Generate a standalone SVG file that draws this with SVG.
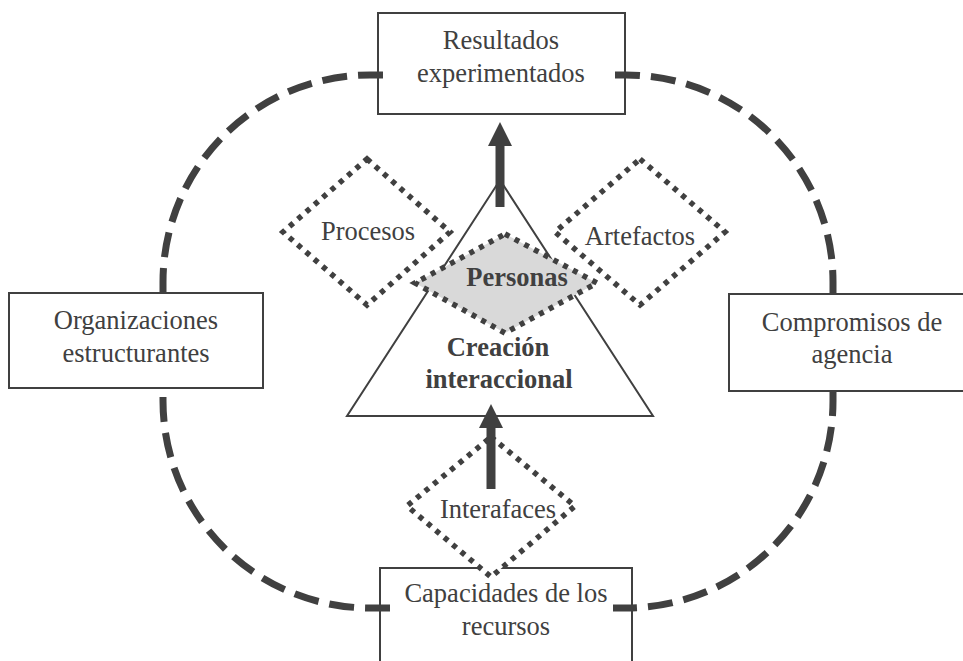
<svg xmlns="http://www.w3.org/2000/svg" width="963" height="661" viewBox="0 0 963 661">
  <style>
    .ring { fill: none; stroke: #404040; stroke-width: 7; stroke-dasharray: 25 11; }
    .box { fill: #ffffff; stroke: #404040; stroke-width: 2; }
    .tri { fill: #ffffff; stroke: #404040; stroke-width: 2; }
    .dots { fill: #ffffff; stroke: #404040; stroke-width: 5.5; stroke-dasharray: 5 6; }
    .dots.core { fill: #d9d9d9; }
    .shaft { stroke: #404040; stroke-width: 9; fill: none; }
    .lbl { font-family: 'Liberation Serif', 'DejaVu Serif', serif; font-size: 26.5px; fill: #404040; text-anchor: middle; }
    .bold { font-weight: bold; }
  </style>
  <defs>
    <marker id="head" viewBox="0 0 24 24" markerWidth="24" markerHeight="24" refX="0" refY="12" orient="auto" markerUnits="userSpaceOnUse">
      <path d="M0,0 L24,12 L0,24 Z" fill="#404040"/>
    </marker>
  </defs>

  <rect width="963" height="661" fill="#ffffff"/>

  <!-- outer boxes -->
  <g id="resultados">
    <rect class="box" x="378" y="13" width="247" height="101"/>
    <text class="lbl" x="501" y="49">Resultados</text>
    <text class="lbl" x="501" y="82">experimentados</text>
  </g>
  <g id="organizaciones">
    <rect class="box" x="9" y="293" width="254" height="95"/>
    <text class="lbl" x="136" y="329">Organizaciones</text>
    <text class="lbl" x="136" y="362">estructurantes</text>
  </g>
  <g id="compromisos">
    <rect class="box" x="729" y="294" width="250" height="97"/>
    <text class="lbl" x="852" y="331">Compromisos de</text>
    <text class="lbl" x="852" y="363">agencia</text>
  </g>
  <g id="capacidades">
    <rect class="box" x="380" y="568" width="252" height="110"/>
    <text class="lbl" x="506" y="602">Capacidades de los</text>
    <text class="lbl" x="506" y="635">recursos</text>
  </g>

  <!-- dashed rounded ring linking the four boxes -->
  <g id="ring">
    <path class="ring" d="M615,75 L626,75 A207,207 0 0 1 833,282 L833,294"/>
    <path class="ring" d="M833,391 L833,401 A207,207 0 0 1 626,608 L613,608"/>
    <path class="ring" d="M390,608 L370,608 A207,207 0 0 1 163,401 L163,388"/>
    <path class="ring" d="M163,293 L163,282 A207,207 0 0 1 370,75 L388,75"/>
  </g>

  <!-- central triangle -->
  <g id="creacion">
    <polygon class="tri" points="500,180 653,416 347,416"/>
  </g>

  <g id="procesos">
    <polygon class="dots" points="367,159 450,232 367,305 283,232"/>
    <text class="lbl" x="368" y="240">Procesos</text>
  </g>
  <g id="artefactos">
    <polygon class="dots" points="640,159 725,232 640,305 555,232"/>
    <text class="lbl" x="640" y="245">Artefactos</text>
  </g>
  <g id="personas">
    <polygon class="dots core" points="505,234 597,283 505,333 415,283"/>
    <text class="lbl bold" x="517" y="286">Personas</text>
  </g>
  <g id="creacion-label">
    <text class="lbl bold" x="498" y="356">Creación</text>
    <text class="lbl bold" x="499" y="388">interaccional</text>
  </g>

  <g id="interfaces">
    <polygon class="dots" points="491,437 575,506 491,577 407,506"/>
    <text class="lbl" x="498" y="518">Interafaces</text>
  </g>

  <!-- upward arrows -->
  <g id="connectors">
    <line class="shaft" x1="500" y1="207" x2="500" y2="146" marker-end="url(#head)"/>
    <line class="shaft" x1="491" y1="489" x2="491" y2="428" marker-end="url(#head)"/>
  </g>
</svg>
